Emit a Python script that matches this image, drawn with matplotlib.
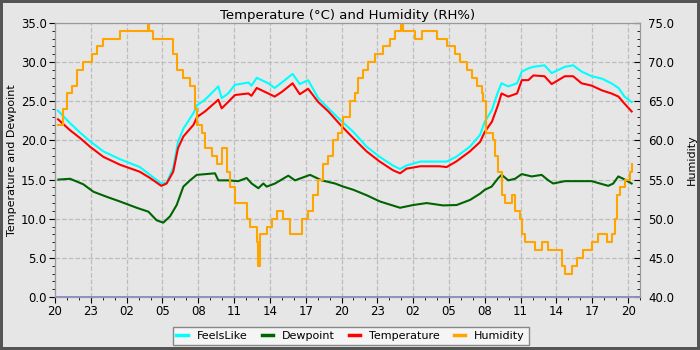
import matplotlib
matplotlib.use('Agg')
import matplotlib.pyplot as plt
from matplotlib.ticker import MultipleLocator, FuncFormatter

# --- DATA (hours since 20:00 on day 1) ---
temp_t = [0.25, 1.26, 2.1, 2.93, 4.05, 5.44, 7.1, 7.96, 8.9, 9.35, 9.9, 10.3, 10.75, 11.6, 11.9,
          12.56, 13.68, 13.96, 14.5, 15.07, 16.2, 16.45, 16.9, 17.86, 18.4, 19.0, 19.9, 20.5, 21.2,
          22.05, 22.9, 23.9, 24.98, 26.1, 27.2, 28.3, 28.9, 29.45, 30.6, 32.2, 32.8, 33.6, 34.75,
          35.6, 36.0, 36.6, 37.1, 37.4, 37.96, 38.7, 39.1, 39.65, 40.06, 41.0, 41.6, 42.7, 43.4,
          44.1, 44.95, 45.8, 46.6, 47.2, 47.7, 48.3]
temperature = [22.7, 21.3, 20.3, 19.2, 17.9, 16.9, 16.0, 15.2, 14.2, 14.5, 16.0, 19.0, 20.5, 22.0, 23.0,
               23.7, 25.2, 24.1, 24.9, 25.8, 26.0, 25.7, 26.7, 26.0, 25.6, 26.2, 27.3, 25.9, 26.6,
               24.9, 23.7, 22.0, 20.3, 18.6, 17.3, 16.2, 15.8, 16.4, 16.7, 16.7, 16.6, 17.3, 18.6,
               19.8, 21.1, 22.4, 24.5, 26.0, 25.6, 26.0, 27.7, 27.7, 28.3, 28.2, 27.2, 28.2, 28.2,
               27.3, 27.0, 26.4, 26.0, 25.6, 24.7, 23.7]
feelslike = [23.8, 22.2, 21.0, 19.9, 18.6, 17.6, 16.6, 15.6, 14.5, 14.6, 16.5, 19.8, 21.5, 23.5, 24.5,
             25.2, 26.9, 25.4, 26.0, 27.1, 27.4, 27.0, 28.0, 27.3, 26.7, 27.4, 28.5, 27.2, 27.7,
             25.4, 24.1, 22.6, 21.1, 19.2, 17.9, 16.8, 16.35, 16.8, 17.3, 17.3, 17.3, 17.9, 19.2,
             20.7, 22.4, 23.9, 26.2, 27.3, 26.9, 27.3, 28.8, 29.2, 29.4, 29.6, 28.6, 29.4, 29.6,
             28.8, 28.2, 27.9, 27.3, 26.7, 25.6, 24.9]

dew_t = [0.28, 1.26, 2.37, 3.21, 4.33, 5.44, 6.84, 7.82, 8.51, 9.07, 9.63, 10.19, 10.75, 11.31, 11.87,
         13.4, 13.68, 14.5, 15.35, 16.05, 16.47, 17.03, 17.45, 17.73, 18.43, 19.54, 20.1, 21.36,
         22.34, 23.45, 24.15, 24.98, 26.1, 27.22, 28.9, 30.0, 31.13, 32.5, 33.64, 34.76, 35.6,
         36.0, 36.57, 37.13, 37.41, 37.97, 38.53, 39.09, 39.93, 40.76, 41.32, 41.73, 42.71, 43.83,
         44.95, 45.64, 46.34, 46.76, 47.18, 47.6, 48.3]
dewpoint = [15.0, 15.1, 14.4, 13.45, 12.8, 12.2, 11.4, 10.9, 9.8, 9.5, 10.3, 11.75, 14.1, 14.9, 15.6,
            15.8, 14.9, 14.9, 14.8, 15.2, 14.5, 13.9, 14.5, 14.1, 14.5, 15.5, 14.9, 15.6,
            14.9, 14.5, 14.1, 13.7, 13.0, 12.2, 11.4, 11.75, 12.0, 11.7, 11.75, 12.4, 13.2,
            13.7, 14.1, 15.2, 15.6, 14.9, 15.1, 15.7, 15.4, 15.6, 14.9, 14.5, 14.8, 14.8,
            14.8, 14.5, 14.2, 14.5, 15.4, 15.1, 14.5]

hum_t = [0.28, 0.7, 0.98, 1.4, 1.82, 2.37, 3.07, 3.49, 4.05, 5.44, 7.75, 7.9, 8.23, 9.9, 10.2, 10.75,
         11.3, 11.7, 11.9, 12.28, 12.56, 13.12, 13.54, 13.96, 14.38, 14.66, 15.08, 16.05, 16.33,
         16.89, 17.03, 17.15, 17.73, 18.15, 18.57, 19.12, 19.68, 20.66, 21.21, 21.63, 22.05, 22.47,
         22.89, 23.31, 23.73, 24.01, 24.15, 24.71, 25.13, 25.4, 25.82, 26.24, 26.8, 27.5, 28.06,
         28.48, 29.0, 29.15, 30.0, 30.15, 30.71, 31.97, 32.8, 33.5, 33.92, 34.48, 34.9, 35.32,
         35.74, 35.87, 36.1, 36.71, 36.85, 37.13, 37.41, 37.69, 38.25, 38.53, 38.95, 39.09, 39.36,
         40.2, 40.76, 41.32, 42.44, 42.71, 43.27, 43.69, 44.25, 44.95, 45.5, 46.2, 46.62, 46.9,
         47.04, 47.32, 47.74, 48.16, 48.3]
humidity = [62, 64, 66, 67, 69, 70, 71, 72, 73, 74, 75, 74, 73, 71, 69, 68,
            67, 64, 62, 61, 59, 58, 57, 59, 56, 54, 52, 50, 49,
            47, 44, 48, 49, 50, 51, 50, 48, 50, 51, 53, 55, 57,
            58, 60, 61, 62, 63, 65, 66, 68, 69, 70, 71, 72, 73,
            74, 75, 74, 74, 73, 74, 73, 72, 71, 70, 69, 68, 67,
            66, 65, 61, 60, 58, 56, 53, 52, 53, 51, 50, 48, 47,
            46, 47, 46, 44, 43, 44, 45, 46, 47, 48, 47, 48, 50,
            53, 54, 55, 56, 57]

hour_start = 20
x_max = 49

# --- FIGURE ---
plt.rcParams['font.family'] = 'DejaVu Sans'
plt.rcParams['font.size'] = 8

bg = '#e6e6e6'
fig = plt.figure(figsize=(7, 3.5), dpi=100, facecolor=bg)
fig.patch.set_edgecolor('#555555')
fig.patch.set_linewidth(3)

ax = fig.add_axes([0.0786, 0.1514, 0.8357, 0.7829], facecolor=bg)
ax2 = ax.twinx()

ax.axhline(0, color='#8080f0', lw=2, zorder=3)
l1, = ax.plot(temp_t, feelslike, color='cyan', lw=1.5, label='FeelsLike')
l2, = ax.plot(dew_t, dewpoint, color='#006400', lw=1.5, label='Dewpoint')
l3, = ax.plot(temp_t, temperature, color='red', lw=1.5, label='Temperature')
l4, = ax2.plot(hum_t, humidity, color='orange', lw=1.5, drawstyle='steps-post', label='Humidity')

ax.set_xlim(0, x_max)
ax.set_ylim(0, 35)
ax2.set_ylim(40, 75)

ax.xaxis.set_major_locator(MultipleLocator(3))
ax.xaxis.set_minor_locator(MultipleLocator(1))
ax.xaxis.set_major_formatter(FuncFormatter(lambda v, p: '%02d' % ((hour_start + int(round(v))) % 24)))
ax.yaxis.set_major_locator(MultipleLocator(5))
ax.yaxis.set_minor_locator(MultipleLocator(1))
ax.yaxis.set_major_formatter(FuncFormatter(lambda v, p: '%.1f' % v))
ax2.yaxis.set_major_locator(MultipleLocator(5))
ax2.yaxis.set_minor_locator(MultipleLocator(1))
ax2.yaxis.set_major_formatter(FuncFormatter(lambda v, p: '%.1f' % v))

ax.tick_params(which='major', direction='out', length=4, color='black', labelsize=8.5, pad=2)
ax.tick_params(which='minor', direction='out', length=2, color='black')
ax2.tick_params(which='major', direction='in', length=4, color='black', labelsize=8.5, pad=6)
ax2.tick_params(which='minor', direction='in', length=2, color='black')

ax.grid(True, which='major', linestyle='--', color='#bdbdbd', lw=0.9)
for a in (ax, ax2):
    for s in a.spines.values():
        s.set_color('#999999')

ax.set_ylabel('Temperature and Dewpoint', fontsize=8)
ax.yaxis.set_label_coords(-0.065, 0.5)
ax2.set_ylabel('Humidity', fontsize=8)
ax2.yaxis.set_label_coords(1.08, 0.5)
ax.set_title('Temperature (°C) and Humidity (RH%)', fontsize=9.5, pad=3)

leg = fig.legend(handles=[l1, l2, l3, l4], loc='center', bbox_to_anchor=(0.501, 0.04), ncol=4,
                 fancybox=False, facecolor='#f5f5f5', edgecolor='#888888', framealpha=1,
                 handlelength=1.0, columnspacing=1.3, fontsize=8, borderpad=0.35)
for h in leg.get_lines():
    h.set_linewidth(2.5)

fig.savefig('out.png', dpi=100, facecolor=bg, edgecolor=fig.patch.get_edgecolor())
